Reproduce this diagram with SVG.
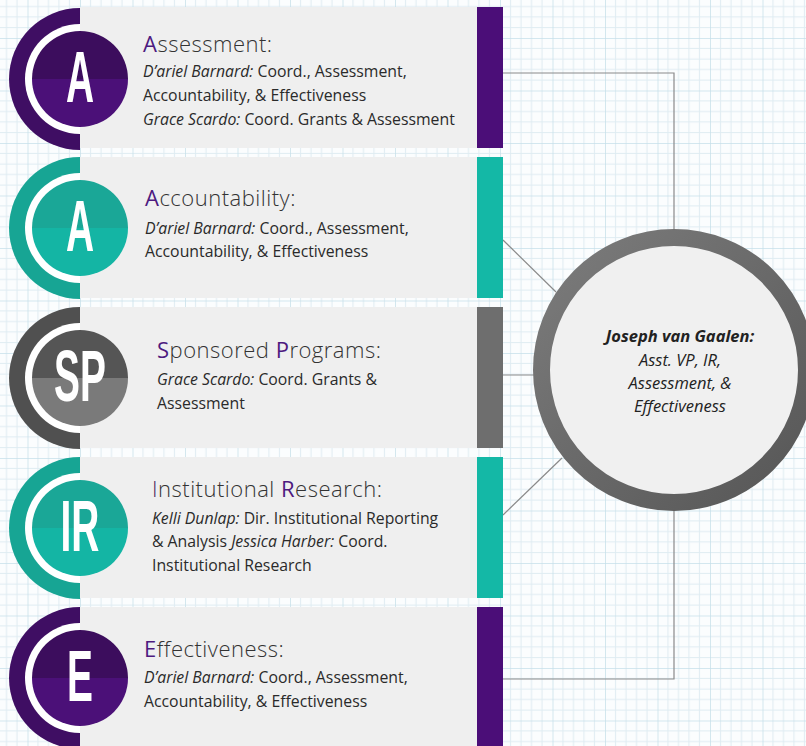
<svg xmlns="http://www.w3.org/2000/svg" width="806" height="746" viewBox="0 0 806 746">
<style>
.panel{fill:#efefef}
.title{font-family:"Open Sans","Liberation Sans",sans-serif;font-weight:300;font-size:22px;fill:#333333;letter-spacing:0.5px}
.hl{fill:#4d1a7f;font-weight:400}
.body{font-family:"Open Sans","Liberation Sans",sans-serif;font-size:15.8px;fill:#2a2a2a}
.it{font-style:italic}
.letter{font-family:"Liberation Sans","DejaVu Sans",sans-serif;font-weight:bold;font-size:72px;fill:#ffffff;text-anchor:middle}
.conn{fill:none;stroke:#8a8a8a;stroke-width:1.2}
.ctext{font-family:"Open Sans","Liberation Sans",sans-serif;font-style:italic;font-size:16.5px;fill:#222;text-anchor:middle}
</style>
<defs>
<pattern id="grid" patternUnits="userSpaceOnUse" x="27.5" y="38" width="52.5" height="52.5">
<rect width="52.5" height="52.5" fill="#fbfdfe"/>
<path d="M10.5 0V52.5M21 0V52.5M31.5 0V52.5M42 0V52.5M0 10.5H52.5M0 21H52.5M0 31.5H52.5M0 42H52.5" stroke="#dfecf2" stroke-width="1"/>
<path d="M0 0V52.5M0 0H52.5" stroke="#c6e0ea" stroke-width="1.5"/>
</pattern>
<clipPath id="leftHalf"><rect x="0" y="0" width="80" height="746"/></clipPath>
<linearGradient id="ringG" x1="0" y1="0" x2="1" y2="1">
<stop offset="0" stop-color="#7c7c7c"/>
<stop offset="1" stop-color="#565656"/>
</linearGradient>
</defs>
<rect width="806" height="746" fill="url(#grid)"/>

<g id="connectors">
<path class="conn" d="M503 73H674V230"/>
<path class="conn" d="M503 240L556 292"/>
<path class="conn" d="M503 375H540"/>
<path class="conn" d="M503 515L562 458"/>
<path class="conn" d="M503 679H674V510"/>
</g>

<g id="assessment">
<rect class="panel" x="80" y="7" width="397" height="141"/>
<rect x="477" y="7" width="26" height="141" fill="#4b0e78"/>
<g clip-path="url(#leftHalf)">
<circle cx="80" cy="79" r="71" fill="#3f0e63"/>
<circle cx="80" cy="79" r="55" fill="#ffffff"/>
</g>
<path d="M32 79A48 48 0 0 1 128 79Z" fill="#3c0d5d"/>
<path d="M32 79A48 48 0 0 0 128 79Z" fill="#4b1078"/>
<text class="letter" transform="translate(80 102) scale(0.54 1)">A</text>
<text class="title" x="143" y="52"><tspan class="hl">A</tspan>ssessment:</text>
<text class="body" x="143" y="77"><tspan class="it">D’ariel Barnard:</tspan> Coord., Assessment,</text>
<text class="body" x="143" y="101">Accountability, &amp; Effectiveness</text>
<text class="body" x="143" y="125"><tspan class="it">Grace Scardo:</tspan> Coord. Grants &amp; Assessment</text>
</g>

<g id="accountability">
<rect class="panel" x="80" y="157" width="397" height="141"/>
<rect x="477" y="157" width="26" height="141" fill="#14b8a6"/>
<g clip-path="url(#leftHalf)">
<circle cx="80" cy="228" r="71" fill="#17a594"/>
<circle cx="80" cy="228" r="55" fill="#ffffff"/>
</g>
<path d="M32 228A48 48 0 0 1 128 228Z" fill="#1aa797"/>
<path d="M32 228A48 48 0 0 0 128 228Z" fill="#14b5a4"/>
<text class="letter" transform="translate(80 251) scale(0.54 1)">A</text>
<text class="title" x="145" y="206"><tspan class="hl">A</tspan>ccountability:</text>
<text class="body" x="145" y="234"><tspan class="it">D’ariel Barnard:</tspan> Coord., Assessment,</text>
<text class="body" x="145" y="257">Accountability, &amp; Effectiveness</text>
</g>

<g id="sponsored-programs">
<rect class="panel" x="80" y="307" width="397" height="141"/>
<rect x="477" y="307" width="26" height="141" fill="#6e6e6e"/>
<g clip-path="url(#leftHalf)">
<circle cx="80" cy="378" r="71" fill="#505050"/>
<circle cx="80" cy="378" r="55" fill="#ffffff"/>
</g>
<path d="M32 378A48 48 0 0 1 128 378Z" fill="#555555"/>
<path d="M32 378A48 48 0 0 0 128 378Z" fill="#7a7a7a"/>
<text class="letter" transform="translate(80 401) scale(0.54 1)">SP</text>
<text class="title" x="157" y="358"><tspan class="hl">S</tspan>ponsored <tspan class="hl">P</tspan>rograms:</text>
<text class="body" x="157" y="385"><tspan class="it">Grace Scardo:</tspan> Coord. Grants &amp;</text>
<text class="body" x="157" y="409">Assessment</text>
</g>

<g id="institutional-research">
<rect class="panel" x="80" y="457" width="397" height="141"/>
<rect x="477" y="457" width="26" height="141" fill="#14b8a6"/>
<g clip-path="url(#leftHalf)">
<circle cx="80" cy="528" r="71" fill="#17a594"/>
<circle cx="80" cy="528" r="55" fill="#ffffff"/>
</g>
<path d="M32 528A48 48 0 0 1 128 528Z" fill="#1aa797"/>
<path d="M32 528A48 48 0 0 0 128 528Z" fill="#14b5a4"/>
<text class="letter" transform="translate(80 551) scale(0.54 1)">IR</text>
<text class="title" x="152" y="497"><tspan fill="#4a2a5e">I</tspan>nstitutional <tspan class="hl">R</tspan>esearch:</text>
<text class="body" x="152" y="524"><tspan class="it">Kelli Dunlap:</tspan> Dir. Institutional Reporting</text>
<text class="body" x="152" y="547">&amp; Analysis <tspan class="it">Jessica Harber:</tspan> Coord.</text>
<text class="body" x="152" y="571">Institutional Research</text>
</g>

<g id="effectiveness">
<rect class="panel" x="80" y="607" width="397" height="141"/>
<rect x="477" y="607" width="26" height="141" fill="#4b0e78"/>
<g clip-path="url(#leftHalf)">
<circle cx="80" cy="678" r="71" fill="#3f0e63"/>
<circle cx="80" cy="678" r="55" fill="#ffffff"/>
</g>
<path d="M32 678A48 48 0 0 1 128 678Z" fill="#3c0d5d"/>
<path d="M32 678A48 48 0 0 0 128 678Z" fill="#4b1078"/>
<text class="letter" transform="translate(80 701) scale(0.54 1)">E</text>
<text class="title" x="144" y="657"><tspan class="hl">E</tspan>ffectiveness:</text>
<text class="body" x="144" y="683"><tspan class="it">D’ariel Barnard:</tspan> Coord., Assessment,</text>
<text class="body" x="144" y="707">Accountability, &amp; Effectiveness</text>
</g>

<g id="joseph-van-gaalen">
<circle cx="674" cy="370" r="132.5" fill="#f0f0f0" stroke="url(#ringG)" stroke-width="17"/>
<text class="ctext" x="680" y="342" font-weight="bold">Joseph van Gaalen:</text>
<text class="ctext" x="680" y="366">Asst. VP, IR,</text>
<text class="ctext" x="680" y="389">Assessment, &amp;</text>
<text class="ctext" x="680" y="412">Effectiveness</text>
</g>
</svg>
